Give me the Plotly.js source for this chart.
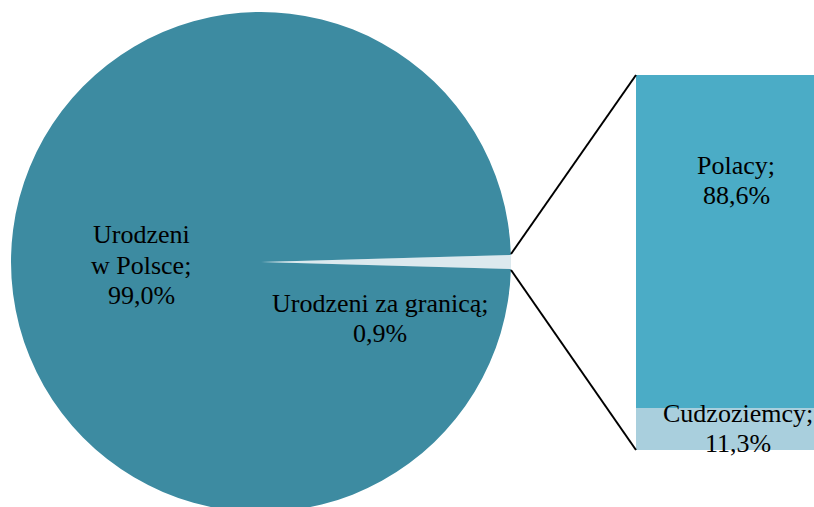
<!DOCTYPE html>
<html><head><meta charset="utf-8">
<script src="https://cdn.plot.ly/plotly-3.0.1.min.js"></script>
<style>html,body{margin:0;padding:0;overflow:hidden;background:#fff}#chart{width:814px;height:520px}</style>
</head><body><div id="chart"></div>
<script>
// ---- data ----
const pieLabels = ['Urodzeni za granicą;', 'Urodzeni<br>w Polsce;'];
const pieValues = [0.9, 99.0];
const pieColors = ['#DCE9EE', '#3D8BA1'];
const barLabels = ['Cudzoziemcy;', 'Polacy;'];
const barValues = [11.3, 88.6];
const barColors = ['#A9CFDD', '#4BACC6'];

function fmt(v) { return v.toFixed(1).replace('.', ',') + '%'; }
const W = 814, H = 520;
const px = x => x / W, py = y => (H - y) / H;

const pieTotal = pieValues.reduce((a, b) => a + b, 0);
const smallHalf = pieValues[0] / pieTotal * 360 / 2;

const traces = [{
  type: 'pie', labels: pieLabels, values: pieValues, sort: false,
  direction: 'clockwise', rotation: 90 - smallHalf,
  marker: {colors: pieColors, line: {width: 0}},
  textinfo: 'none', hoverinfo: 'label+value', showlegend: false,
  domain: {x: [px(11), px(511)], y: [py(512), py(12)]}
}];
barLabels.forEach((l, i) => traces.push({
  type: 'bar', x: [0], y: [barValues[i]], name: l,
  marker: {color: barColors[i], line: {width: 0}},
  xaxis: 'x', yaxis: 'y', showlegend: false, hoverinfo: 'y'
}));

const font = {family: 'Liberation Serif, Times New Roman, serif', size: 26, color: '#000'};
const annotations = [];
function addLabel(lines, cx, ys) {
  lines.forEach((t, i) => annotations.push({
    xref: 'paper', yref: 'paper', x: px(cx), y: py(ys[i]),
    xanchor: 'center', yanchor: 'middle', showarrow: false, text: t, font: font
  }));
}
const bigLines = pieLabels[1].split('<br>').concat([fmt(pieValues[1])]);
addLabel(bigLines, 141, [235, 265, 295]);
addLabel([pieLabels[0], fmt(pieValues[0])], 380, [304, 334]);
addLabel([barLabels[1], fmt(barValues[1])], 736, [165, 195]);
addLabel([barLabels[0], fmt(barValues[0])], 738, [413, 443]);

const barTotal = barValues.reduce((a, b) => a + b, 0);
const layout = {
  width: W, height: H, margin: {l: 0, r: 0, t: 0, b: 0},
  paper_bgcolor: '#fff', plot_bgcolor: 'rgba(0,0,0,0)',
  barmode: 'stack', bargap: 0,
  xaxis: {domain: [px(636), 1], range: [-0.5, 0.5], visible: false, fixedrange: true},
  yaxis: {domain: [py(450), py(75)], range: [0, barTotal], visible: false, fixedrange: true},
  showlegend: false,
  annotations: annotations,
  shapes: [
    {type: 'line', xref: 'paper', yref: 'paper', x0: px(511), y0: py(254), x1: px(636), y1: py(75), line: {color: '#000', width: 2}},
    {type: 'line', xref: 'paper', yref: 'paper', x0: px(511), y0: py(270), x1: px(636), y1: py(450), line: {color: '#000', width: 2}}
  ]
};
Plotly.newPlot('chart', traces, layout, {displayModeBar: false, staticPlot: true});
</script></body></html>
